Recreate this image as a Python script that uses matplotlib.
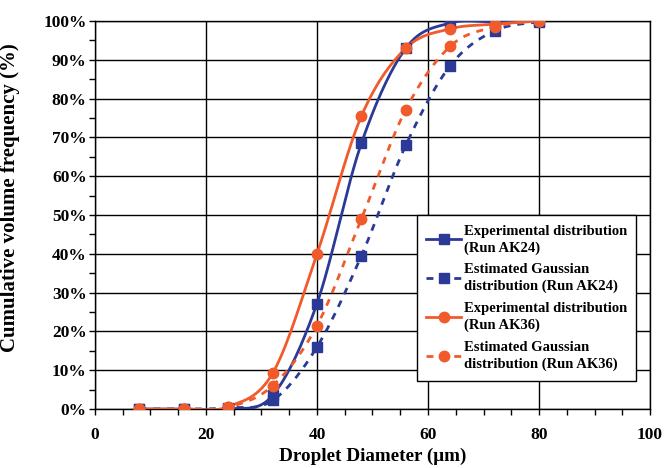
import numpy as np
import matplotlib.pyplot as plt
from matplotlib.ticker import MultipleLocator, FuncFormatter

plt.rcParams['font.family'] = ['Liberation Serif', 'DejaVu Serif']
plt.rcParams['font.weight'] = 'bold'

# data
diam = [8, 16, 24, 32, 40, 48, 56, 64, 72, 80]
ak24_exp = [0, 0, 0, 3.5, 27.2, 68.5, 93.0, 99.5, 99.8, 100]
ak24_gau = [0, 0, 0.3, 2.2, 16.0, 39.5, 68.0, 88.5, 97.5, 99.8]
ak36_exp = [0, 0, 0.6, 9.2, 40.0, 75.5, 93.0, 98.0, 99.2, 100]
ak36_gau = [0, 0, 0.5, 6.0, 21.5, 49.0, 77.2, 93.5, 98.5, 100]

blue = '#2B3A96'
orange = '#F15A2B'


def smooth(x, y, n=30):
    # Excel-like smoothed line (Catmull-Rom bezier through the points)
    x = np.asarray(x, float)
    y = np.asarray(y, float)
    px, py = [], []
    for i in range(len(x) - 1):
        x0, y0 = (x[i - 1], y[i - 1]) if i > 0 else (x[i], y[i])
        x3, y3 = (x[i + 2], y[i + 2]) if i + 2 < len(x) else (x[i + 1], y[i + 1])
        x1, y1, x2, y2 = x[i], y[i], x[i + 1], y[i + 1]
        c1x, c1y = x1 + (x2 - x0) / 6, y1 + (y2 - y0) / 6
        c2x, c2y = x2 - (x3 - x1) / 6, y2 - (y3 - y1) / 6
        t = np.linspace(0, 1, n)
        b = [(1 - t) ** 3, 3 * (1 - t) ** 2 * t, 3 * (1 - t) * t ** 2, t ** 3]
        px.extend(b[0] * x1 + b[1] * c1x + b[2] * c2x + b[3] * x2)
        py.extend(b[0] * y1 + b[1] * c1y + b[2] * c2y + b[3] * y2)
    return px, py


fig = plt.figure(figsize=(6.66, 4.68), dpi=100)
ax = fig.add_axes([0.1426, 0.126, 0.8334, 0.829])

series = [
    (ak24_exp, blue, '-', 's', 'Experimental distribution\n(Run AK24)'),
    (ak24_gau, blue, (0, (2.5, 2.5)), 's', 'Estimated Gaussian\ndistribution (Run AK24)'),
    (ak36_exp, orange, '-', 'o', 'Experimental distribution\n(Run AK36)'),
    (ak36_gau, orange, (0, (2.5, 2.5)), 'o', 'Estimated Gaussian\ndistribution (Run AK36)'),
]

handles = []
for vals, col, ls, mk, lab in series:
    sx, sy = smooth(diam, vals)
    ax.plot(sx, sy, color=col, ls=ls, lw=2, zorder=3)
    ax.plot(diam, vals, ls='none', marker=mk, color=col, ms=7.5, zorder=4)
    h, = ax.plot([], [], color=col, ls=ls, lw=2, marker=mk, ms=7.5, label=lab)
    handles.append(h)

ax.set_xlim(0, 100)
ax.set_ylim(0, 100)
ax.xaxis.set_major_locator(MultipleLocator(20))
ax.xaxis.set_minor_locator(MultipleLocator(5))
ax.yaxis.set_major_locator(MultipleLocator(10))
ax.yaxis.set_minor_locator(MultipleLocator(5))
ax.yaxis.set_major_formatter(FuncFormatter(lambda v, p: f'{v:.0f}%'))
ax.tick_params(which='both', direction='out', length=4, width=1, labelsize=12.5)
ax.tick_params(axis='x', pad=9)
ax.tick_params(axis='y', pad=2)
ax.grid(True, which='major', color='black', lw=1)
for s in ax.spines.values():
    s.set_linewidth(1)

ax.set_xlabel('Droplet Diameter (\u03bcm)', fontsize=13.8, fontweight='bold', labelpad=3)
ax.set_ylabel('Cumulative volume frequency (%)', fontsize=15, fontweight='bold')
ax.yaxis.set_label_coords(-0.135, 0.544)

leg = ax.legend(handles=handles, loc='upper left', bbox_to_anchor=(0.58, 0.5),
                fontsize=10.5, frameon=True, fancybox=False, edgecolor='black',
                handlelength=2.4, handletextpad=0.15, labelspacing=0.6,
                borderpad=0.65, borderaxespad=0)
for t in leg.get_texts():
    t.set_linespacing(1.35)
leg.get_frame().set_linewidth(1)
leg.get_frame().set_alpha(1)

fig.savefig('out.png', dpi=100)
